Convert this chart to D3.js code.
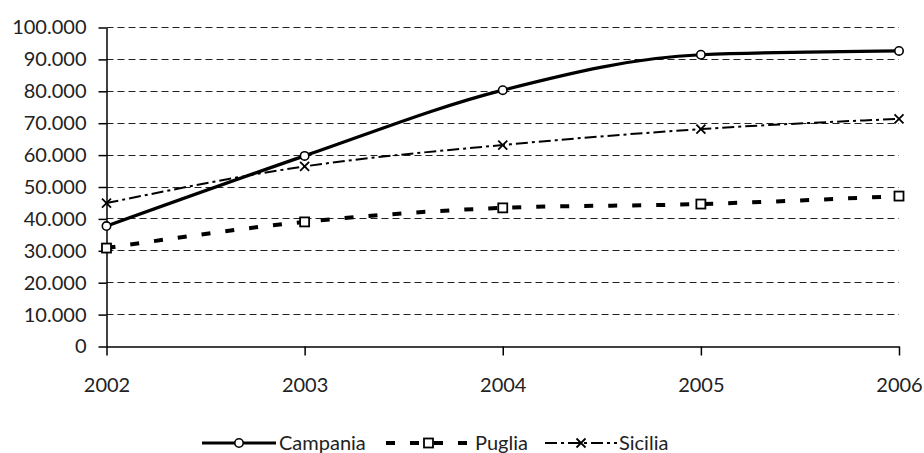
<!DOCTYPE html>
<html>
<head>
<meta charset="utf-8">
<script src="https://cdn.jsdelivr.net/npm/d3@7"></script>
<style>
  html, body { margin: 0; padding: 0; background: #fff; }
  svg { display: block; font-family: "Century Gothic", "URW Gothic", Lato, sans-serif; }
</style>
</head>
<body>
<svg id="chart" width="924" height="453"></svg>
<script>
const years = [2002, 2003, 2004, 2005, 2006];
const campania = [37600, 59600, 80200, 91300, 92500];
const puglia = [30700, 38900, 43300, 44500, 47000];
const sicilia = [44800, 56300, 63000, 68000, 71200];
const yTicks = [0, 10000, 20000, 30000, 40000, 50000, 60000, 70000, 80000, 90000, 100000];
const seriesNames = ["Campania", "Puglia", "Sicilia"];

const svg = d3.select("#chart");
const x = d3.scaleLinear().domain([2002, 2006]).range([106.5, 899]);
const y = d3.scaleLinear().domain([0, 100000]).range([346, 27]);
const it = d3.formatLocale({decimal: ",", thousands: ".", grouping: [3], currency: ["€", ""]});
const fmt = it.format(",d");

// gridlines
svg.append("g").selectAll("line").data(yTicks.filter(d => d > 0)).join("line")
  .attr("x1", x(2002)).attr("x2", 899)
  .attr("y1", d => Math.round(y(d)) + 0.5).attr("y2", d => Math.round(y(d)) + 0.5)
  .attr("stroke", "#222").attr("stroke-width", 1).attr("stroke-dasharray", "7,4");

// y axis
const yAxis = d3.axisLeft(y).tickValues(yTicks).tickFormat(fmt).tickSize(8).tickSizeOuter(0);
const gy = svg.append("g").attr("transform", "translate(106.5,0.5)").call(yAxis);
gy.select(".domain").attr("stroke", "#000").attr("stroke-width", 1.5);
gy.selectAll(".tick line").attr("stroke", "#000").attr("stroke-width", 1.5);
gy.selectAll(".tick text").attr("font-size", 20).attr("fill", "#222").attr("x", -20)
  .style("font-family", "inherit");

// x axis
const xAxis = d3.axisBottom(x).tickValues(years).tickFormat(d3.format("d")).tickSize(9).tickSizeOuter(0);
const gx = svg.append("g").attr("transform", "translate(0,346.5)").call(xAxis);
gx.select(".domain").attr("stroke", "#000").attr("stroke-width", 1.5);
gx.selectAll(".tick line").attr("stroke", "#000").attr("stroke-width", 1.5).attr("y1", -0);
gx.selectAll(".tick text").attr("font-size", 20).attr("fill", "#222").attr("y", 31)
  .style("font-family", "inherit");
gy.attr("font-family", null); gx.attr("font-family", null);

const line = d3.line().x((d, i) => x(years[i])).y(d => y(d)).curve(d3.curveMonotoneX);

const styles = [
  {data: campania, width: 3.2, dash: null, marker: "circle"},
  {data: puglia, width: 4, dash: "9,15", marker: "square"},
  {data: sicilia, width: 2, dash: "12,4,3,4", marker: "x"}
];

function drawMarker(g, type, cx, cy) {
  if (type === "circle") {
    g.append("circle").attr("cx", cx).attr("cy", cy).attr("r", 4.2)
      .attr("fill", "#fff").attr("stroke", "#000").attr("stroke-width", 1.6);
  } else if (type === "square") {
    g.append("rect").attr("x", cx - 4.5).attr("y", cy - 4.5).attr("width", 9).attr("height", 9)
      .attr("fill", "#fff").attr("stroke", "#000").attr("stroke-width", 1.8);
  } else {
    g.append("path").attr("d", `M${cx-4.5},${cy-4.5}L${cx+4.5},${cy+4.5}M${cx-4.5},${cy+4.5}L${cx+4.5},${cy-4.5}`)
      .attr("stroke", "#000").attr("stroke-width", 1.8).attr("fill", "none");
  }
}

// draw series in reverse so Campania is on top
[2, 1, 0].forEach(k => {
  const s = styles[k];
  const g = svg.append("g");
  g.append("path").attr("d", line(s.data)).attr("fill", "none").attr("stroke", "#000")
    .attr("stroke-width", s.width).attr("stroke-dasharray", s.dash);
  s.data.forEach((v, i) => drawMarker(g, s.marker, x(years[i]), y(v)));
});

// legend
const legend = [
  {x1: 202, x2: 276, tx: 279},
  {x1: 386, x2: 471, tx: 475},
  {x1: 545, x2: 617, tx: 619}
];
const ly = 443;
legend.forEach((L, k) => {
  const s = styles[k];
  const g = svg.append("g");
  g.append("line").attr("x1", L.x1).attr("x2", L.x2).attr("y1", ly).attr("y2", ly)
    .attr("stroke", "#000").attr("stroke-width", s.width).attr("stroke-dasharray", s.dash);
  drawMarker(g, s.marker, (L.x1 + L.x2) / 2, ly);
  g.append("text").attr("x", L.tx).attr("y", ly).attr("dy", "0.35em")
    .attr("font-size", 20).attr("fill", "#222").text(seriesNames[k]);
});
</script>
</body>
</html>
